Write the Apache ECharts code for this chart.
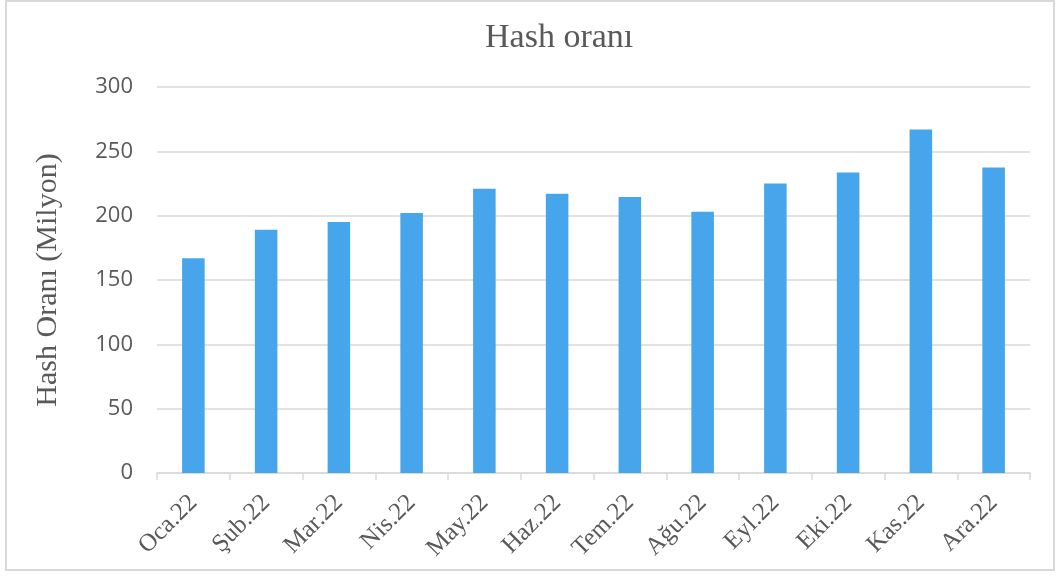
<!DOCTYPE html>
<html>
<head>
<meta charset="utf-8">
<script src="https://cdn.jsdelivr.net/npm/echarts@6/dist/echarts.min.js"></script>
<style>
    html, body { margin: 0; padding: 0; background: #fff; }
    #chart { width: 1059px; height: 576px; }
</style>
</head>
<body>
<div id="chart"></div>
<script>
const months = ['Oca.22', 'Şub.22', 'Mar.22', 'Nis.22', 'May.22', 'Haz.22', 'Tem.22', 'Ağu.22', 'Eyl.22', 'Eki.22', 'Kas.22', 'Ara.22']
const hashRate = [167, 189, 195, 202, 221, 217, 214.5, 203, 225, 233.5, 267, 237.5]
const yTicks = [0, 50, 100, 150, 200, 250, 300]

const grey = '#595959'
const lineGrey = '#d9d9d9'

const option = {
    animation: false,
    backgroundColor: '#fff',
    title: {
        text: 'Hash oranı',
        left: 480,
        top: 16,
        textStyle: {
            fontFamily: 'Liberation Serif',
            fontWeight: 'normal',
            fontSize: 34,
            color: grey
        }
    },
    graphic: [{
        type: 'rect',
        shape: {x: 6, y: 1, width: 1048, height: 569},
        style: {fill: 'none', stroke: lineGrey, lineWidth: 2},
        silent: true
    }],
    grid: {
        left: 157,
        right: 29,
        top: 87,
        bottom: 103
    },
    xAxis: {
        type: 'category',
        data: months,
        axisLine: {lineStyle: {color: lineGrey, width: 1.5}},
        axisTick: {show: true, length: 7, lineStyle: {color: lineGrey, width: 1.5}},
        axisLabel: {
            rotate: 45,
            margin: 26,
            fontFamily: 'Liberation Serif',
            fontSize: 25,
            color: grey
        }
    },
    yAxis: {
        type: 'value',
        min: yTicks[0],
        max: yTicks[yTicks.length - 1],
        interval: 50,
        name: 'Hash Oranı (Milyon)',
        nameLocation: 'middle',
        nameGap: 94,
        nameTextStyle: {
            fontFamily: 'Liberation Serif',
            fontSize: 30,
            color: grey
        },
        axisLine: {show: false},
        axisTick: {show: false},
        axisLabel: {
            margin: 24,
            fontFamily: 'Open Sans',
            fontSize: 22,
            color: grey
        },
        splitLine: {lineStyle: {color: lineGrey, width: 1.5}}
    },
    series: [{
        type: 'bar',
        data: hashRate,
        barWidth: '31%',
        itemStyle: {color: '#47a6eb'}
    }]
}

const myChart = echarts.init(document.getElementById('chart'))
myChart.setOption(option)
window.addEventListener('resize', () => {
    myChart.resize()
})
</script>
</body>
</html>
